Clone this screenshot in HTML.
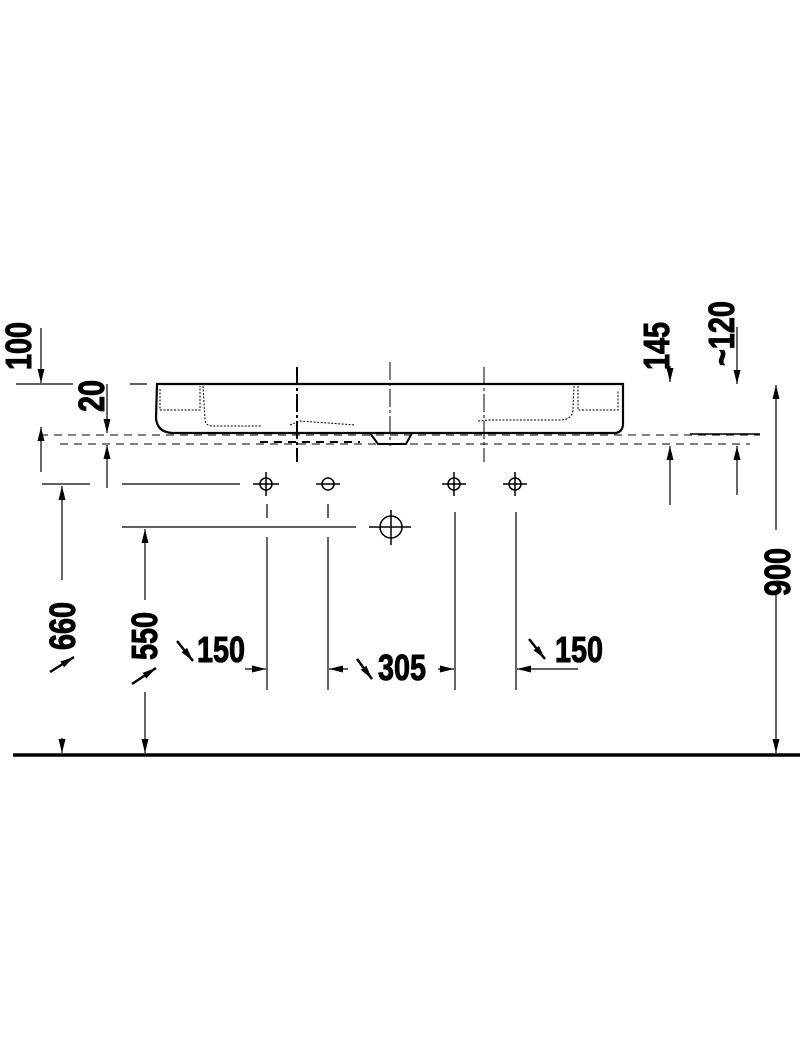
<!DOCTYPE html>
<html><head><style>
html,body{margin:0;padding:0;background:#fff;}
svg{display:block;}
text{font-family:"Liberation Sans",sans-serif;font-weight:bold;font-size:36px;fill:#000;}
</style></head><body>
<svg width="800" height="1058" viewBox="0 0 800 1058" xmlns="http://www.w3.org/2000/svg">
<defs>
<marker id="a" viewBox="0 0 14 8" refX="14" refY="4" markerWidth="14" markerHeight="8" markerUnits="userSpaceOnUse" orient="auto"><path d="M0,0.5 L14,4 L0,7.5 z" fill="#000"/></marker>
</defs>
<g stroke="#000" fill="none">
<path d="M157,384 L623,384 L623,425 Q622,432 616,433 L172,433 Q157,432 156,418 Z" stroke-width="2.2"/>
<path d="M160,389 L160,410 L200,410 L200,386 M203,386 L205,420 Q206,426 212,426 L262,426 M290,425 L300,421 L355,425 M478,421 L490,420 L560,420 Q572,420 573,410 L574,386 M578,386 L578,410 L618,410 L618,390" stroke-width="1" stroke-dasharray="2,1.5"/>
<path d="M370,433 L378,444 L406,444 L412,433" stroke-width="2"/>
<line x1="40" y1="435" x2="760" y2="435" stroke-width="1" stroke-dasharray="8,6"/>
<line x1="60" y1="444" x2="750" y2="444" stroke-width="1" stroke-dasharray="8,6"/>
<line x1="260" y1="442" x2="360" y2="442" stroke-width="2" stroke-dasharray="8,6"/>
<line x1="690" y1="434" x2="760" y2="434" stroke-width="1.5"/>
<line x1="297" y1="367" x2="297" y2="462" stroke-width="2" stroke-dasharray="18,3,3,3"/>
<line x1="390" y1="362" x2="390" y2="446" stroke-width="1" stroke-dasharray="18,3,3,3"/>
<line x1="484" y1="367" x2="484" y2="462" stroke-width="1" stroke-dasharray="18,3,3,3"/>
<g stroke-width="1.5">
<circle cx="266" cy="484" r="6"/><line x1="253" y1="484" x2="279" y2="484"/><line x1="266" y1="472" x2="266" y2="496"/>
<circle cx="328" cy="484" r="6"/><line x1="316" y1="484" x2="340" y2="484"/>
<circle cx="454" cy="484" r="6"/><line x1="442" y1="484" x2="466" y2="484"/><line x1="454" y1="472" x2="454" y2="496"/>
<circle cx="515" cy="484" r="6"/><line x1="503" y1="484" x2="527" y2="484"/><line x1="515" y1="472" x2="515" y2="496"/>
<circle cx="391" cy="527" r="11"/><line x1="369" y1="527" x2="411" y2="527"/><line x1="391" y1="510" x2="391" y2="545"/>
</g>
<g stroke-width="1.2">
<line x1="267" y1="504" x2="267" y2="518"/><line x1="267" y1="537" x2="267" y2="690"/>
<line x1="328" y1="504" x2="328" y2="518"/><line x1="328" y1="537" x2="328" y2="690"/>
<line x1="455" y1="512" x2="455" y2="690"/>
<line x1="516" y1="512" x2="516" y2="690"/>
<line x1="122" y1="484" x2="240" y2="484"/>
<line x1="42" y1="484" x2="90" y2="484"/>
<line x1="122" y1="527" x2="356" y2="527"/>
<line x1="16" y1="384" x2="73" y2="384"/>
<line x1="130" y1="384" x2="147" y2="384"/>
<line x1="41" y1="328" x2="41" y2="383" marker-end="url(#a)"/>
<line x1="107" y1="384" x2="107" y2="433" marker-end="url(#a)"/>
<line x1="107" y1="488" x2="107" y2="445" marker-end="url(#a)"/>
<line x1="41" y1="472" x2="41" y2="427" marker-end="url(#a)"/>
<line x1="62" y1="580" x2="62" y2="486" marker-end="url(#a)"/>
<line x1="62" y1="738" x2="62" y2="753" marker-end="url(#a)"/>
<line x1="145" y1="600" x2="145" y2="529" marker-end="url(#a)"/>
<line x1="145" y1="692" x2="145" y2="753" marker-end="url(#a)"/>
<line x1="670" y1="366" x2="670" y2="382" marker-end="url(#a)"/>
<line x1="670" y1="505" x2="670" y2="446" marker-end="url(#a)"/>
<line x1="737" y1="327" x2="737" y2="384" marker-end="url(#a)"/>
<line x1="737" y1="495" x2="737" y2="446" marker-end="url(#a)"/>
<line x1="776" y1="530" x2="776" y2="385" marker-end="url(#a)"/>
<line x1="776" y1="595" x2="776" y2="753" marker-end="url(#a)"/>
<line x1="245" y1="669" x2="266" y2="669" marker-end="url(#a)"/>
<line x1="348" y1="669" x2="329" y2="669" marker-end="url(#a)"/>
<line x1="438" y1="669" x2="454" y2="669" marker-end="url(#a)"/>
<line x1="578" y1="669" x2="517" y2="669" marker-end="url(#a)"/>
<line x1="50" y1="672" x2="74" y2="657" stroke-width="2.5" marker-end="url(#a)"/>
<line x1="132" y1="684" x2="156" y2="668" stroke-width="2.5" marker-end="url(#a)"/>
<line x1="177" y1="641" x2="193" y2="661" stroke-width="2.5" marker-end="url(#a)"/>
<line x1="357" y1="659" x2="372" y2="679" stroke-width="2.5" marker-end="url(#a)"/>
<line x1="529" y1="639" x2="545" y2="659" stroke-width="2.5" marker-end="url(#a)"/>
</g>
<line x1="13" y1="755" x2="800" y2="755" stroke="#000" stroke-width="3.5"/>
<g>
<text transform="translate(31,370) rotate(-90) scale(0.8,1)">100</text>
<text transform="translate(104,412) rotate(-90) scale(0.8,1)">20</text>
<text transform="translate(75,650) rotate(-90) scale(0.8,1)">660</text>
<text transform="translate(157,660) rotate(-90) scale(0.8,1)">550</text>
<text transform="translate(669,370) rotate(-90) scale(0.8,1)">145</text>
<text transform="translate(734,366) rotate(-90) scale(0.8,1)">~120</text>
<text transform="translate(790,596) rotate(-90) scale(0.8,1)">900</text>
<text transform="translate(197,662) scale(0.8,1)">150</text>
<text transform="translate(378,680) scale(0.8,1)">305</text>
<text transform="translate(555,662) scale(0.8,1)">150</text>
</g>
</svg>
</body></html>
